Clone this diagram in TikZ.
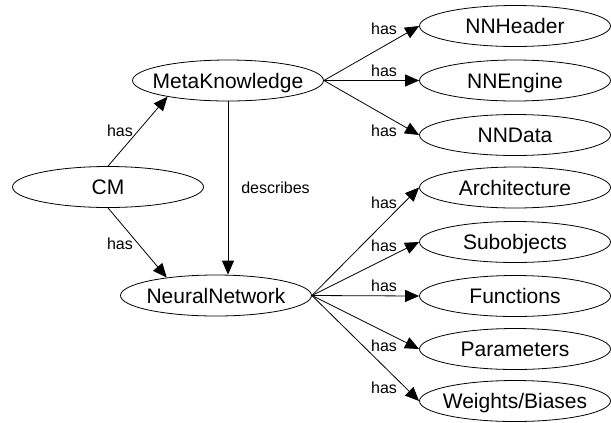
\documentclass[tikz,border=0pt]{standalone}
\usepackage{fontspec}
\setmainfont{Liberation Sans}
\usetikzlibrary{shapes.geometric,arrows.meta}
\begin{document}
\begin{tikzpicture}[x=1bp,y=-1bp,
  obj/.style={draw,ellipse,line width=0.8bp,minimum width=191bp,minimum height=41bp,
    inner sep=0pt,text height=15bp,text depth=0pt,font=\fontsize{21bp}{25bp}\selectfont},
  rel/.style={line width=0.8bp,-{Triangle[length=14bp,width=12bp]}},
  lbl/.style={inner sep=0pt,font=\fontsize{16bp}{19bp}\selectfont}]
\useasboundingbox (0,0) rectangle (611,422);
% objects
\node[obj] (cm) at (108,187) {\makebox[0pt]{CM}};
\node[obj] (mk) at (228,80.5) {\makebox[0pt]{MetaKnowledge}};
\node[obj] (nn) at (216,295.5) {\makebox[0pt]{NeuralNetwork}};
\node[obj] (nnheader) at (515,26) {\makebox[0pt]{NNHeader}};
\node[obj] (nnengine) at (515,80.5) {\makebox[0pt]{NNEngine}};
\node[obj] (nndata) at (515,135) {\makebox[0pt]{NNData}};
\node[obj] (arch) at (515,187.5) {\makebox[0pt]{Architecture}};
\node[obj] (subobj) at (515,242) {\makebox[0pt]{Subobjects}};
\node[obj] (func) at (515,296) {\makebox[0pt]{Functions}};
\node[obj] (param) at (515,349) {\makebox[0pt]{Parameters}};
\node[obj] (weights) at (515,401) {\makebox[0pt]{Weights/Biases}};
% relations
\draw[rel] (cm.north) -- (mk.195);
\node[lbl] (l1) at (120,131) {has};
\draw[rel] (cm.south) -- (nn.160);
\node[lbl] (l2) at (120,244) {has};
\draw[rel] (mk.south) -- (mk.south |- nn.north);
\node[lbl] (l3) at (275.5,188) {describes};
\draw[rel] (mk.east) -- (nnheader.west);
\node[lbl] (l4) at (384,29) {has};
\draw[rel] (mk.east) -- (nnengine.west);
\node[lbl] (l5) at (384,71) {has};
\draw[rel] (mk.east) -- (nndata.west);
\node[lbl] (l6) at (384,131) {has};
\draw[rel] (nn.east) -- (arch.west);
\node[lbl] (l7) at (384,203) {has};
\draw[rel] (nn.east) -- (subobj.west);
\node[lbl] (l8) at (384,246) {has};
\draw[rel] (nn.east) -- (func.west);
\node[lbl] (l9) at (384,286) {has};
\draw[rel] (nn.east) -- (param.west);
\node[lbl] (l10) at (384,346) {has};
\draw[rel] (nn.east) -- (weights.west);
\node[lbl] (l11) at (384,388) {has};
\end{tikzpicture}
\end{document}
